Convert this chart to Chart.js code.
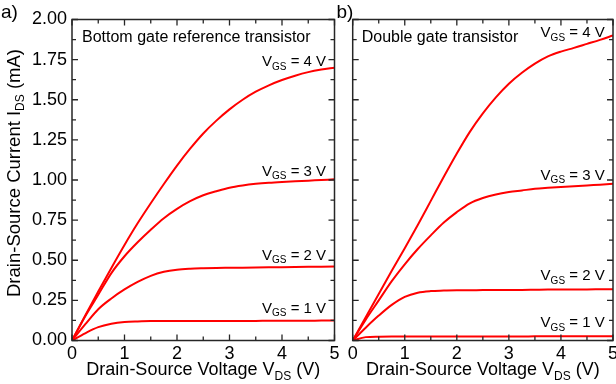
<!DOCTYPE html>
<html><head><meta charset="utf-8">
<script src="https://cdn.jsdelivr.net/npm/chart.js@4.4.0/dist/chart.umd.min.js"></script>
<style>
html,body{margin:0;padding:0;background:#fff;overflow:hidden}
#wrap{position:relative;width:616px;height:384px;overflow:hidden}
.box{position:absolute;top:0;height:384px}
canvas{display:block}
</style></head><body>
<div id="wrap">
<div class="box" style="left:0;width:345px"><canvas id="ca" width="345" height="384"></canvas></div>
<div class="box" style="left:330px;width:286px"><canvas id="cb" width="286" height="384"></canvas></div>
</div>
<script>
// ---------- data ----------
const vds = [0,0.25,0.5,0.75,1,1.25,1.5,1.75,2,2.25,2.5,2.75,3,3.25,3.5,3.75,4,4.25,4.5,4.75,5];
const vgsValues = [1,2,3,4];
// a) bottom gate reference transistor, I_DS in mA
const bottom1V = [0,0.045,0.083,0.104,0.115,0.119,0.121,0.121,0.121,0.121,0.121,0.122,0.122,0.122,0.122,0.123,0.123,0.123,0.123,0.124,0.124];
const bottom2V = [0,0.10,0.195,0.262,0.318,0.365,0.403,0.428,0.441,0.447,0.450,0.452,0.453,0.454,0.455,0.456,0.457,0.458,0.459,0.460,0.461];
const bottom3V = [0,0.15,0.285,0.42,0.525,0.612,0.69,0.762,0.82,0.868,0.905,0.93,0.952,0.966,0.976,0.983,0.988,0.992,0.996,1.0,1.004];
const bottom4V = [0,0.155,0.305,0.452,0.595,0.73,0.855,0.975,1.09,1.195,1.29,1.37,1.44,1.50,1.55,1.59,1.623,1.65,1.672,1.688,1.70];
// b) double gate transistor
const double1V = [0,0.021,0.024,0.025,0.025,0.025,0.025,0.025,0.025,0.025,0.025,0.025,0.025,0.025,0.026,0.026,0.026,0.026,0.026,0.026,0.026];
const double2V = [0,0.08,0.155,0.222,0.272,0.298,0.308,0.311,0.313,0.313,0.314,0.314,0.315,0.315,0.316,0.317,0.317,0.318,0.318,0.319,0.32];
const double3V = [0,0.13,0.25,0.37,0.475,0.57,0.655,0.735,0.80,0.855,0.888,0.91,0.925,0.935,0.945,0.951,0.956,0.961,0.966,0.971,0.976];
const double4V = [0,0.145,0.29,0.435,0.575,0.72,0.87,1.02,1.165,1.30,1.415,1.515,1.60,1.668,1.725,1.77,1.80,1.823,1.848,1.873,1.90];
const xTickValues = [0,1,2,3,4,5];
const yTickValues = [0,0.25,0.5,0.75,1,1.25,1.5,1.75,2];

// ---------- layout / style ----------
const FONT = '"Liberation Sans", Arial, Helvetica, sans-serif';
const RED = 'rgb(255,0,0)';
const AXIS = '#262626';
// label anchors (data coords: right edge x, baseline y)
const labelPosA = [[4.84,0.172],[4.84,0.503],[4.84,1.028],[4.84,1.708]];
const labelPosB = [[4.84,0.084],[4.84,0.375],[4.84,1.003],[4.84,1.889]];

function toPts(ys){ return ys.map((y,i)=>({x:vds[i], y:y})); }

function drawParts(ctx, parts, x, y, align){
  let w = 0;
  parts.forEach(p=>{ ctx.font = p.size+'px '+FONT; p.w = ctx.measureText(p.t).width; w += p.w; });
  let cx = align==='right' ? x - w : (align==='center' ? x - w/2 : x);
  ctx.textAlign = 'left'; ctx.textBaseline = 'alphabetic';
  parts.forEach(p=>{ ctx.font = p.size+'px '+FONT; ctx.fillText(p.t, cx, y + (p.dy||0)); cx += p.w; });
}

const framePlugin = {
  id:'frame',
  afterDatasetsDraw(chart){
    const ctx = chart.ctx, a = chart.chartArea, xs = chart.scales.x, ys = chart.scales.y;
    ctx.save();
    ctx.strokeStyle = AXIS; ctx.lineWidth = 1.5;
    ctx.strokeRect(a.left, a.top, a.right-a.left, a.bottom-a.top);
    ctx.lineWidth = 1.3;
    ctx.beginPath();
    for(let v=0; v<=5.0001; v+=0.5){
      const px = xs.getPixelForValue(v);
      const L = (Math.abs(v-Math.round(v))<1e-6) ? 6 : 4;
      ctx.moveTo(px, a.bottom); ctx.lineTo(px, a.bottom - L);
      ctx.moveTo(px, a.top); ctx.lineTo(px, a.top + L);
    }
    for(let v=0; v<=2.0001; v+=0.125){
      const py = ys.getPixelForValue(v);
      const L = (Math.abs(v*4-Math.round(v*4))<1e-6) ? 6 : 4;
      ctx.moveTo(a.left, py); ctx.lineTo(a.left + L, py);
      ctx.moveTo(a.right, py); ctx.lineTo(a.right - L, py);
    }
    ctx.stroke();
    ctx.restore();
  }
};

function textPlugin(cfg){
  return {
    id:'texts',
    afterDraw(chart){
      const ctx = chart.ctx, a = chart.chartArea, xs = chart.scales.x, ys = chart.scales.y;
      ctx.save();
      ctx.fillStyle = '#000';
      drawParts(ctx, [{t:cfg.letter, size:19}], cfg.letterX, 18, 'left');
      drawParts(ctx, [{t:cfg.title, size:16}], a.left + cfg.titleDx, 42, 'left');
      vgsValues.forEach((v,i)=>{
        const p = cfg.labelPos[i];
        drawParts(ctx, [{t:'V',size:15},{t:'GS',size:10,dy:3.5},{t:' = '+v+' V',size:15}],
          xs.getPixelForValue(p[0]), ys.getPixelForValue(p[1]), 'right');
      });
      drawParts(ctx, [{t:'Drain-Source Voltage V',size:18},{t:'DS',size:12,dy:4.5},{t:' (V)',size:18}],
        (a.left+a.right)/2, 375, 'center');
      if(cfg.yTitle){
        ctx.translate(19.5, 173);
        ctx.rotate(-Math.PI/2);
        drawParts(ctx, [{t:'Drain-Source Current I',size:18.5},{t:'DS',size:12,dy:4.5},{t:' (mA)',size:18.5}], 0, 0, 'center');
      }
      ctx.restore();
    }
  };
}

function makeChart(id, series, cfg){
  const datasets = series.map(s=>({
    data: toPts(s), borderColor: RED, borderWidth: 2, pointRadius: 0,
    showLine: true, fill: false, cubicInterpolationMode: 'monotone'
  }));
  return new Chart(document.getElementById(id), {
    type:'scatter',
    data:{datasets},
    options:{
      responsive:false, animation:false, devicePixelRatio:1,
      layout:{padding:{left:0, right:cfg.padRight, top:19.5, bottom:0}},
      plugins:{legend:{display:false}, tooltip:{enabled:false}},
      scales:{
        x:{type:'linear', min:0, max:5,
          grid:{display:false, drawTicks:false}, border:{display:false},
          afterBuildTicks(s){ s.ticks = xTickValues.map(v=>({value:v})); },
          ticks:{color:'#000', font:{family:FONT, size:18}, padding:3, maxRotation:0, callback:v=>String(v)},
          afterFit(s){ s.height = 43.5; s.paddingLeft = 0; s.paddingRight = 0; }
        },
        y:{type:'linear', min:0, max:2,
          grid:{display:false, drawTicks:false}, border:{display:false},
          afterBuildTicks(s){ s.ticks = yTickValues.map(v=>({value:v})); },
          ticks:{display:cfg.yLabels, color:'#000', font:{family:FONT, size:18}, padding:5, callback:v=>Number(v).toFixed(2)},
          afterFit(s){ s.width = cfg.yWidth; s.paddingTop = 0; s.paddingBottom = 0; }
        }
      }
    },
    plugins:[framePlugin, textPlugin(cfg)]
  });
}

makeChart('ca', [bottom1V,bottom2V,bottom3V,bottom4V], {
  padRight: 345-334.5, yWidth: 72, yLabels: true, letter:'a)', letterX: 1,
  title:'Bottom gate reference transistor', titleDx: 10, labelPos: labelPosA, yTitle: true
});
makeChart('cb', [double1V,double2V,double3V,double4V], {
  padRight: 3, yWidth: 22.7, yLabels: false, letter:'b)', letterX: 6.5,
  title:'Double gate transistor', titleDx: 9, labelPos: labelPosB, yTitle: false
});
</script>
</body></html>
